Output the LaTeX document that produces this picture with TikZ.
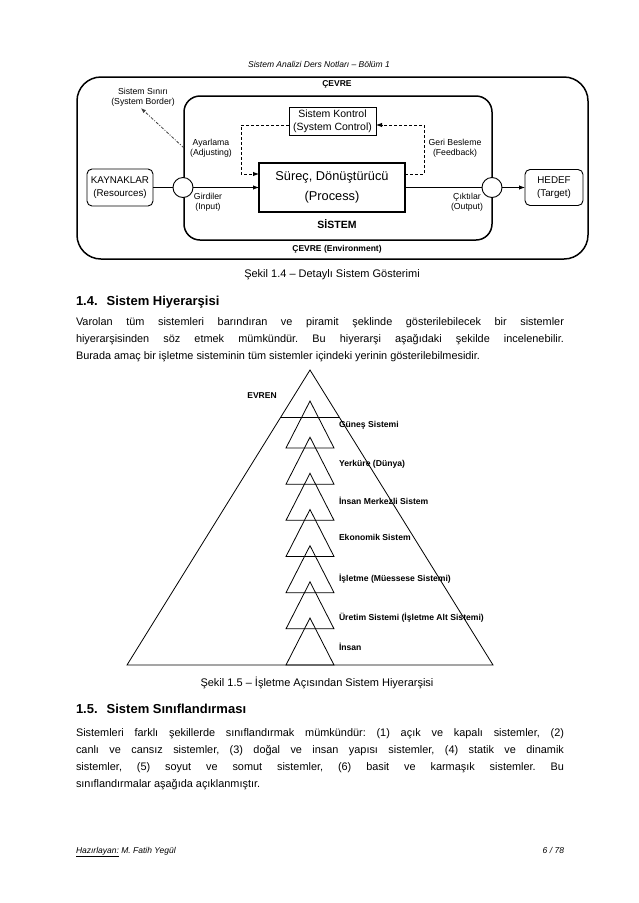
\documentclass[tikz,border=0pt]{standalone}
\usepackage{fontspec}
\setmainfont{Liberation Sans}
\usetikzlibrary{arrows.meta,calc}
\newcommand{\fsz}[2]{\fontsize{#1}{#2}\selectfont}
\begin{document}
\frenchspacing
\hyphenpenalty=10000
\begin{tikzpicture}[x=1pt,y=-1pt,
  every node/.style={inner sep=0pt, outer sep=0pt},
  envbox/.style={draw, line width=1.5pt, rounded corners=24pt},
  sysbox/.style={draw, line width=1.5pt, rounded corners=16pt},
  endbox/.style={draw, line width=0.9pt, rounded corners=5pt, align=center, font=\fsz{9.8}{12.5}},
  ctlbox/.style={draw, line width=0.9pt, align=center, font=\fsz{10.5}{13}},
  procbox/.style={draw, line width=1.3pt, align=center, font=\fsz{12.8}{20}},
  junc/.style={draw, circle, line width=0.9pt, minimum size=20pt, fill=white},
  flow/.style={line width=0.9pt},
  flowarr/.style={flow, -{Latex[length=6pt,width=4.5pt]}},
  ctl/.style={line width=0.9pt, dash pattern=on 3pt off 2pt, -{Latex[length=6pt,width=4.5pt]}},
  bord/.style={line width=0.8pt, gray!50!black, dash pattern=on 3pt off 1.5pt on 1pt off 1.5pt, -{Latex[length=5pt,width=4pt]}},
  lbl/.style={align=center, font=\fsz{8.7}{10.2}},
  blbl/.style={font=\bfseries\fsz{8.5}{10}},
  pyr/.style={line width=0.8pt},
  plbl/.style={anchor=west, font=\bfseries\fsz{8.6}{10}},
  captxt/.style={font=\fsz{11}{13}},
  head/.style={anchor=base west, font=\bfseries\fsz{13}{15}},
  body/.style={anchor=base west, text width=488pt, align=justify, font=\fsz{10.9}{17}},
  foot/.style={font=\itshape\fsz{8.5}{10}}
]
\fill[white] (0,0) rectangle (638,903);
\useasboundingbox (0,0) rectangle (638,903);

\node[foot] (hdr) at (319,64) {Sistem Analizi Ders Notları – Bölüm 1};

% --- Figure 1.4 ---
\node[envbox, minimum width=511pt, minimum height=182pt] (env) at (332.5,168) {};
\node[sysbox, minimum width=308pt, minimum height=144pt] (sys) at (338,168) {};
\node[junc] (jin) at (183,187.5) {};
\node[junc] (jout) at (492,187.5) {};
\node[endbox, minimum width=66pt, minimum height=37pt] (kay) at (120,187.5) {KAYNAKLAR\\(Resources)};
\node[endbox, minimum width=58pt, minimum height=36pt] (hedef) at (554,187.5) {HEDEF\\(Target)};
\node[procbox, minimum width=146pt, minimum height=49pt] (proc) at (332,187.5) {Süreç, Dönüştürücü\\(Process)};
\node[ctlbox, minimum width=87pt, minimum height=28pt] (kon) at (332.5,121) {Sistem Kontrol\\(System Control)};

\node[lbl] (sinir) at (143,97) {Sistem Sınırı\\(System Border)};
\node[blbl] (cevre) at (337,84) {ÇEVRE};
\node[lbl] (ayar) at (211,148) {Ayarlama\\(Adjusting)};
\node[lbl] (geri) at (455,148) {Geri Besleme\\(Feedback)};
\node[lbl] (gird) at (208,202) {Girdiler\\(Input)};
\node[lbl] (cikti) at (467,202) {Çıktılar\\(Output)};
\node[font=\bfseries\fsz{10.5}{12}] (sistem) at (337,224) {SİSTEM};
\node[blbl] (cevreenv) at (337,249) {ÇEVRE (Environment)};

\draw[flow] (kay.east) -- (jin.west);
\draw[flowarr] (jin.east) -- (proc.west);
\draw[flow] (proc.east) -- (jout.west);
\draw[flowarr] (jout.east) -- (hedef.west);
\draw[ctl] ($(kon.west)+(0,4)$) -- ++(-48,0) |- ($(proc.west)+(0,-13.5)$);
\draw[ctl] ($(proc.east)+(0,-13.5)$) -- ++(19,0) |- ($(kon.east)+(0,4)$);
\draw[bord] ($(sys.west)+(0,-20)$) -- ($(sinir.south)+(-2,2)$);

\node[captxt] (cap1) at (332,275) {Şekil 1.4 – Detaylı Sistem Gösterimi};

\node[head] (h14) at (76,305.5) {1.4.\hspace{9pt}Sistem Hiyerarşisi};
\node[body] (p1) at (76,325) {Varolan tüm sistemleri barındıran ve piramit şeklinde gösterilebilecek bir sistemler\linebreak hiyerarşisinden söz etmek mümkündür. Bu hiyerarşi aşağıdaki şekilde incelenebilir.\linebreak Burada amaç bir işletme sisteminin tüm sistemler içindeki yerinin gösterilebilmesidir.};

% --- Figure 1.5 pyramid ---
\draw[pyr] (310,370) -- (493,665) -- (127,665) -- cycle;
\draw[pyr] (280.8,417) -- (339.2,417);
\foreach \i in {0,...,6} {
  \draw[pyr] (310,{401+36.167*\i}) -- (334,{448+36.167*\i}) -- (286,{448+36.167*\i}) -- cycle;
}
\node[blbl] (evren) at (262,396) {EVREN};
\node[plbl] (l1) at (339,425) {Güneş Sistemi};
\node[plbl] (l2) at (339,464) {Yerküre (Dünya)};
\node[plbl] (l3) at (339,501) {İnsan Merkezli Sistem};
\node[plbl] (l4) at (339,537) {Ekonomik Sistem};
\node[plbl] (l5) at (339,579) {İşletme (Müessese Sistemi)};
\node[plbl] (l6) at (339,618) {Üretim Sistemi (İşletme Alt Sistemi)};
\node[plbl] (l7) at (339,647) {İnsan};

\node[captxt] (cap2) at (317,683) {Şekil 1.5 – İşletme Açısından Sistem Hiyerarşisi};

\node[head] (h15) at (76,713.5) {1.5.\hspace{9pt}Sistem Sınıflandırması};
\node[body] (p2) at (76,736) {Sistemleri farklı şekillerde sınıflandırmak mümkündür: (1) açık ve kapalı sistemler, (2)\linebreak canlı ve cansız sistemler, (3) doğal ve insan yapısı sistemler, (4) statik ve dinamik\linebreak sistemler, (5) soyut ve somut sistemler, (6) basit ve karmaşık sistemler. Bu\linebreak sınıflandırmalar aşağıda açıklanmıştır.};

\node[foot, anchor=base west] (footl) at (76,853) {\underline{Hazırlayan:} M. Fatih Yegül};
\node[foot, anchor=base east] (footr) at (564,853) {6 / 78};
\end{tikzpicture}
\end{document}
